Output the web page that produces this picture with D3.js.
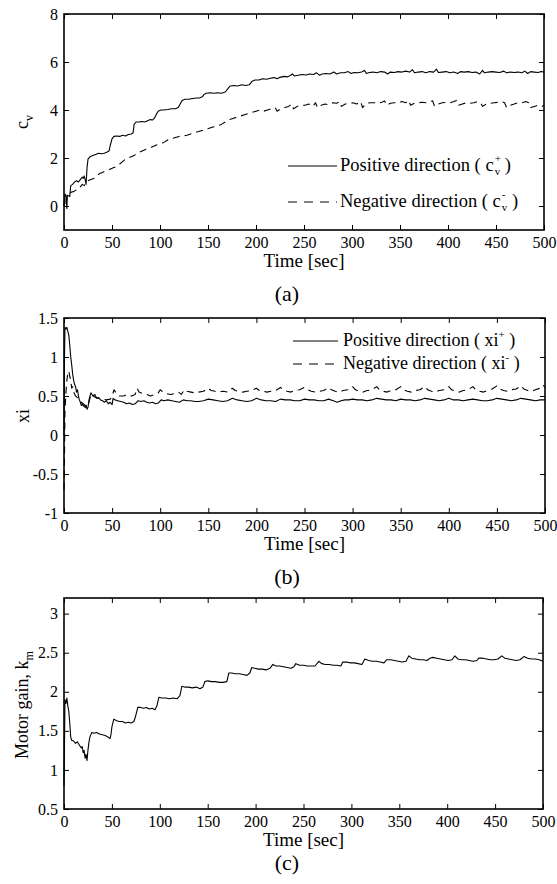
<!DOCTYPE html>
<html>
<head>
<meta charset="utf-8">
<script src="https://cdn.jsdelivr.net/npm/d3@7"></script>
<style>
  body { margin: 0; background: #fff; }
  svg text { font-family: "Liberation Serif", "Times New Roman", serif; fill: #000; }
</style>
</head>
<body>
<svg id="chart" width="557" height="884"></svg>
<script>
// time axis ticks shared by the three panels
const timeTicks = [0, 50, 100, 150, 200, 250, 300, 350, 400, 450, 500];
const cvTicks = [0, 2, 4, 6, 8];
const xiTicks = [-1, -0.5, 0, 0.5, 1, 1.5];
const kmTicks = [0.5, 1, 1.5, 2, 2.5, 3];

// (a) c_v, positive direction  [time, value]
const cvPos = [[0,0],[1,0.5],[2,0.45],[3,-0.1],[3.5,0.45],[6,0.4],[7,0.85],[9,0.9],[11,1.0],[13,1.05],[15,1.0],[17,1.1],[19,1.2],[20,1.15],[21,1.25],[22,1.1],[23,0.9],[24,1.6],[25,1.95],[27,2.05],[30,2.1],[33,2.15],[36,2.2],[39,2.18],[42,2.2],[45,2.25],[47,2.3],[48,2.5],[50,2.8],[52,2.9],[55,2.92],[58,2.9],[61,2.95],[64,2.92],[67,2.98],[70,3.0],[72,3.05],[73,3.4],[75,3.5],[78,3.5],[81,3.52],[84,3.5],[87,3.55],[90,3.6],[92,3.58],[94,3.65],[96,3.8],[98,3.95],[101,4.0],[104,4.0],[108,4.02],[112,4.05],[116,4.05],[119,4.1],[121,4.25],[123,4.4],[126,4.45],[130,4.45],[134,4.48],[138,4.5],[141,4.5],[144,4.55],[146,4.65],[148,4.7],[152,4.72],[156,4.7],[160,4.72],[164,4.7],[168,4.75],[171,4.9],[173,5.0],[177,5.02],[181,5.0],[185,5.05],[189,5.02],[193,5.05],[196,5.2],[199,5.25],[203,5.25],[207,5.3],[211,5.28],[215,5.32],[219,5.35],[222,5.3],[225,5.36],[229,5.4],[233,5.38],[236,5.45],[238,5.5],[240,5.42],[244,5.45],[248,5.48],[252,5.46],[256,5.5],[260,5.48],[263,5.55],[266,5.45],[269,5.5],[273,5.52],[277,5.5],[281,5.58],[284,5.5],[288,5.55],[292,5.55],[296,5.6],[299,5.52],[302,5.56],[306,5.55],[310,5.58],[313,5.65],[315,5.52],[318,5.56],[322,5.58],[326,5.55],[330,5.6],[334,5.58],[337,5.5],[340,5.58],[344,5.56],[348,5.6],[352,5.58],[356,5.62],[360,5.58],[363,5.68],[365,5.55],[369,5.58],[373,5.6],[377,5.55],[381,5.6],[385,5.58],[388,5.7],[390,5.56],[394,5.58],[398,5.6],[402,5.55],[406,5.58],[410,5.52],[413,5.6],[417,5.58],[421,5.6],[425,5.56],[429,5.58],[433,5.5],[436,5.65],[438,5.55],[442,5.58],[446,5.6],[450,5.58],[454,5.56],[458,5.62],[461,5.55],[465,5.58],[469,5.56],[473,5.58],[477,5.55],[480,5.62],[483,5.52],[486,5.6],[490,5.58],[494,5.56],[497,5.6],[500,5.58]];

// (a) c_v, negative direction
const cvNeg = [[0,0],[1,0.3],[2,0.1],[3,0.4],[5,0.5],[8,0.58],[10,0.6],[12,0.65],[15,0.7],[17,0.8],[19,0.9],[21,0.85],[23,1.0],[25,1.05],[28,1.1],[31,1.15],[34,1.25],[37,1.35],[40,1.4],[43,1.45],[46,1.5],[49,1.55],[52,1.6],[55,1.65],[58,1.75],[61,1.85],[64,1.95],[67,2.0],[70,2.05],[73,2.1],[76,2.2],[79,2.25],[82,2.3],[85,2.35],[88,2.42],[91,2.45],[94,2.5],[97,2.55],[100,2.6],[104,2.65],[108,2.75],[112,2.8],[116,2.85],[120,2.9],[124,2.92],[128,2.95],[132,3.0],[136,3.05],[140,3.1],[144,3.15],[148,3.2],[152,3.25],[156,3.3],[160,3.35],[164,3.4],[168,3.5],[172,3.6],[176,3.65],[180,3.7],[184,3.75],[188,3.8],[192,3.85],[196,3.9],[200,3.95],[204,4.0],[208,3.95],[212,4.0],[216,4.05],[220,4.1],[222,3.95],[226,4.05],[230,4.1],[234,4.15],[237,4.25],[239,4.05],[243,4.15],[247,4.2],[251,4.2],[255,4.25],[259,4.15],[262,4.3],[264,4.1],[268,4.2],[272,4.25],[276,4.22],[280,4.3],[284,4.28],[287,4.35],[289,4.15],[293,4.25],[297,4.28],[301,4.3],[305,4.25],[309,4.35],[311,4.1],[315,4.28],[319,4.3],[323,4.3],[327,4.28],[331,4.32],[334,4.38],[336,4.2],[340,4.28],[344,4.3],[348,4.3],[352,4.35],[356,4.3],[359,4.4],[361,4.2],[365,4.28],[369,4.3],[373,4.32],[377,4.3],[381,4.35],[384,4.38],[386,4.15],[390,4.25],[394,4.3],[398,4.32],[402,4.3],[406,4.35],[409,4.4],[411,4.2],[415,4.25],[419,4.3],[423,4.28],[427,4.3],[431,4.35],[434,4.3],[436,4.15],[440,4.25],[444,4.28],[448,4.3],[452,4.32],[456,4.35],[459,4.3],[461,4.1],[465,4.2],[469,4.25],[473,4.3],[477,4.3],[481,4.35],[484,4.3],[486,4.1],[490,4.15],[494,4.2],[498,4.15],[500,4.2]];

// (b) xi, positive direction
const xiPos = [[0,0],[0.5,1.0],[1,1.38],[2,1.36],[3,1.38],[4,1.33],[5,1.28],[6,1.15],[7,1.0],[8,0.9],[9,0.78],[10,0.7],[11,0.65],[12,0.62],[13,0.55],[14,0.58],[15,0.5],[16,0.45],[17,0.42],[18,0.38],[19,0.4],[20,0.37],[21,0.38],[22,0.35],[23,0.38],[24,0.33],[25,0.36],[26,0.45],[27,0.5],[28,0.54],[30,0.5],[32,0.52],[34,0.47],[36,0.48],[38,0.45],[40,0.44],[42,0.42],[44,0.44],[46,0.4],[48,0.42],[50,0.39],[51,0.47],[53,0.45],[56,0.44],[59,0.43],[62,0.42],[65,0.4],[68,0.41],[71,0.39],[74,0.4],[77,0.44],[80,0.43],[83,0.44],[86,0.42],[89,0.41],[92,0.42],[95,0.4],[98,0.41],[101,0.45],[104,0.44],[108,0.45],[112,0.44],[116,0.43],[120,0.42],[124,0.45],[128,0.44],[132,0.44],[136,0.43],[140,0.43],[145,0.44],[150,0.46],[155,0.45],[160,0.44],[165,0.43],[170,0.44],[175,0.47],[180,0.45],[185,0.44],[190,0.43],[195,0.44],[200,0.47],[205,0.45],[210,0.44],[215,0.44],[220,0.43],[225,0.46],[230,0.45],[235,0.45],[240,0.44],[245,0.44],[250,0.46],[255,0.45],[260,0.45],[265,0.44],[270,0.44],[275,0.46],[280,0.44],[284,0.42],[288,0.44],[292,0.45],[296,0.45],[300,0.46],[305,0.45],[310,0.45],[315,0.44],[320,0.45],[325,0.47],[330,0.46],[335,0.45],[340,0.45],[345,0.44],[350,0.46],[355,0.45],[360,0.45],[365,0.44],[370,0.45],[375,0.47],[380,0.46],[385,0.45],[390,0.44],[395,0.45],[400,0.47],[405,0.45],[410,0.45],[415,0.44],[420,0.45],[425,0.46],[430,0.45],[435,0.44],[440,0.44],[445,0.45],[450,0.47],[455,0.46],[460,0.45],[465,0.44],[470,0.45],[475,0.47],[480,0.46],[485,0.45],[490,0.44],[495,0.45],[500,0.45]];

// (b) xi, negative direction
const xiNeg = [[0,-0.7],[0.5,-0.3],[1,0.3],[2,0.55],[3,0.7],[4,0.8],[5,0.82],[6,0.75],[7,0.7],[8,0.6],[9,0.62],[10,0.55],[12,0.5],[14,0.48],[16,0.45],[18,0.42],[20,0.4],[22,0.38],[24,0.36],[26,0.42],[28,0.52],[30,0.5],[33,0.48],[36,0.47],[40,0.46],[44,0.45],[48,0.46],[50,0.5],[52,0.58],[55,0.52],[58,0.5],[62,0.5],[66,0.52],[70,0.5],[74,0.52],[76,0.6],[78,0.55],[82,0.53],[86,0.52],[90,0.5],[94,0.52],[98,0.54],[100,0.58],[103,0.55],[107,0.53],[111,0.52],[115,0.53],[119,0.55],[122,0.52],[125,0.58],[128,0.56],[132,0.55],[136,0.54],[140,0.55],[145,0.56],[150,0.6],[153,0.57],[157,0.56],[161,0.55],[165,0.56],[170,0.55],[175,0.6],[178,0.57],[182,0.56],[186,0.55],[190,0.56],[195,0.57],[200,0.6],[203,0.57],[207,0.56],[211,0.55],[215,0.56],[220,0.57],[225,0.61],[228,0.58],[232,0.56],[236,0.55],[240,0.57],[245,0.58],[250,0.61],[253,0.58],[257,0.56],[261,0.55],[265,0.56],[270,0.57],[275,0.61],[278,0.58],[282,0.56],[286,0.55],[290,0.57],[295,0.58],[300,0.62],[303,0.58],[307,0.56],[311,0.55],[315,0.57],[320,0.58],[325,0.62],[328,0.58],[332,0.56],[336,0.55],[340,0.57],[345,0.58],[350,0.62],[353,0.58],[357,0.56],[361,0.55],[365,0.57],[370,0.58],[375,0.62],[378,0.58],[382,0.56],[386,0.55],[390,0.57],[395,0.58],[400,0.62],[403,0.58],[407,0.56],[411,0.55],[415,0.57],[420,0.58],[425,0.62],[428,0.58],[432,0.56],[436,0.55],[440,0.57],[445,0.59],[450,0.63],[453,0.59],[457,0.57],[461,0.56],[465,0.58],[470,0.59],[475,0.63],[478,0.59],[482,0.57],[486,0.56],[490,0.58],[495,0.6],[498,0.64],[500,0.61]];

// (c) motor gain k_m
const motorGain = [[0,0.8],[0.5,1.3],[1,1.9],[2,1.85],[3,1.92],[4,1.82],[5,1.75],[6,1.6],[7,1.42],[8,1.38],[10,1.37],[12,1.34],[14,1.36],[16,1.32],[18,1.28],[19,1.3],[20,1.22],[21,1.25],[22,1.15],[23,1.2],[24,1.12],[25,1.25],[26,1.35],[27,1.42],[29,1.48],[31,1.47],[34,1.48],[37,1.46],[40,1.45],[43,1.44],[46,1.42],[48,1.4],[49,1.45],[50,1.55],[52,1.65],[55,1.63],[58,1.62],[61,1.62],[64,1.6],[67,1.61],[70,1.6],[73,1.62],[75,1.7],[77,1.8],[80,1.8],[83,1.79],[86,1.8],[89,1.78],[92,1.79],[95,1.77],[97,1.82],[99,1.93],[102,1.92],[106,1.92],[110,1.91],[114,1.92],[118,1.91],[121,1.95],[123,2.07],[126,2.06],[130,2.06],[134,2.05],[138,2.06],[142,2.04],[145,2.06],[147,2.13],[150,2.14],[154,2.13],[158,2.13],[162,2.12],[166,2.12],[170,2.13],[172,2.24],[175,2.24],[179,2.23],[183,2.23],[187,2.22],[191,2.21],[194,2.24],[196,2.31],[199,2.3],[203,2.29],[207,2.29],[211,2.28],[215,2.3],[218,2.35],[221,2.33],[225,2.33],[229,2.32],[233,2.31],[237,2.3],[240,2.32],[242,2.36],[246,2.34],[250,2.34],[254,2.33],[258,2.33],[262,2.33],[266,2.39],[269,2.36],[273,2.35],[277,2.35],[281,2.34],[285,2.34],[289,2.33],[291,2.38],[295,2.38],[299,2.37],[303,2.37],[307,2.36],[311,2.35],[314,2.42],[318,2.4],[322,2.39],[326,2.39],[330,2.38],[334,2.37],[337,2.41],[341,2.41],[345,2.4],[349,2.39],[353,2.38],[357,2.39],[360,2.46],[363,2.43],[367,2.42],[371,2.41],[375,2.41],[379,2.4],[382,2.43],[385,2.44],[389,2.43],[393,2.42],[397,2.41],[401,2.4],[405,2.41],[408,2.46],[411,2.42],[415,2.41],[419,2.41],[423,2.4],[427,2.39],[431,2.4],[433,2.43],[437,2.43],[441,2.42],[445,2.41],[449,2.41],[453,2.42],[457,2.46],[460,2.43],[464,2.42],[468,2.41],[472,2.4],[476,2.41],[480,2.45],[484,2.43],[488,2.42],[492,2.42],[496,2.41],[500,2.39]];

const svg = d3.select('#chart');
const tickLen = 5;

//
// One framed panel: box, inward ticks on all four sides, labels below/left
//
function drawPanel({ left, right, top, bottom, yDomain, yTicks }) {
  const x = d3.scaleLinear([0, 500], [left, right]);
  const y = d3.scaleLinear(yDomain, [bottom, top]);
  const g = svg.append('g');

  // plain labels, as MATLAB prints them (1 not 1.0, hyphen minus)
  const plain = d => String(d);
  const bottomAxis = d3.axisBottom(x).tickValues(timeTicks).tickSize(-tickLen).tickPadding(7).tickFormat(plain);
  const leftAxis = d3.axisLeft(y).tickValues(yTicks).tickSize(-tickLen).tickPadding(6).tickFormat(plain);
  const topAxis = d3.axisTop(x).tickValues(timeTicks).tickSize(-tickLen).tickFormat('');
  const rightAxis = d3.axisRight(y).tickValues(yTicks).tickSize(-tickLen).tickFormat('');

  g.append('g').attr('transform', `translate(0,${bottom})`).call(bottomAxis);
  g.append('g').attr('transform', `translate(${left},0)`).call(leftAxis);
  g.append('g').attr('transform', `translate(0,${top})`).call(topAxis);
  g.append('g').attr('transform', `translate(${right},0)`).call(rightAxis);

  g.selectAll('.domain').remove();
  g.selectAll('.tick line').attr('stroke', '#000').attr('stroke-width', 1);
  g.selectAll('.tick text').attr('font-size', 16);

  g.append('rect')
    .attr('x', left).attr('y', top)
    .attr('width', right - left).attr('height', bottom - top)
    .attr('fill', 'none').attr('stroke', '#000').attr('stroke-width', 1.6);

  g.append('text')
    .attr('x', (left + right) / 2).attr('y', bottom + 37)
    .attr('text-anchor', 'middle').attr('font-size', 19)
    .text('Time [sec]');

  return { x, y, g };
}

function drawLine(panel, data, dashed) {
  const line = d3.line().x(d => panel.x(d[0])).y(d => panel.y(d[1]));
  panel.g.append('path')
    .datum(data)
    .attr('d', line)
    .attr('fill', 'none')
    .attr('stroke', '#000')
    .attr('stroke-width', 1.1)
    .attr('stroke-linejoin', 'round')
    .attr('stroke-dasharray', dashed ? '7,5' : null);
}

function legendRow(x0, x1, y, dashed) {
  svg.append('line')
    .attr('x1', x0).attr('x2', x1).attr('y1', y).attr('y2', y)
    .attr('stroke', '#000').attr('stroke-width', 1)
    .attr('stroke-dasharray', dashed ? '9,7' : null);
}

function caption(label, x, y) {
  svg.append('text').attr('x', x).attr('y', y)
    .attr('text-anchor', 'middle').attr('font-size', 22).text(label);
}

// ---------- (a) ----------
const pa = drawPanel({ left: 64, right: 544, top: 14, bottom: 230, yDomain: [-1, 8], yTicks: cvTicks });
drawLine(pa, cvPos, false);
drawLine(pa, cvNeg, true);

const cvLabel = svg.append('text')
  .attr('transform', 'translate(28,122) rotate(-90)')
  .attr('text-anchor', 'middle').attr('font-size', 18);
cvLabel.append('tspan').text('c');
cvLabel.append('tspan').attr('font-size', 12).attr('dy', 5).text('v');

legendRow(288, 337, 166, false);
legendRow(288, 337, 202, true);
[['Positive direction ( c', '+', 171], ['Negative direction ( c', '-', 207]].forEach(([txt, sup, yy]) => {
  const t = svg.append('text').attr('x', 340).attr('y', yy).attr('font-size', 18.5);
  t.append('tspan').text(txt);
  t.append('tspan').attr('font-size', 11).attr('dx', 1).attr('dy', -9).text(sup);
  t.append('tspan').attr('font-size', 11).attr('dx', sup === '+' ? -6.2 : -3.7).attr('dy', 13).text('v');
  t.append('tspan').attr('dy', -4).text('\u00a0)');
});
caption('(a)', 287, 301);

// ---------- (b) ----------
const pb = drawPanel({ left: 64, right: 545, top: 318, bottom: 513, yDomain: [-1, 1.5], yTicks: xiTicks });
drawLine(pb, xiPos, false);
drawLine(pb, xiNeg, true);

svg.append('text')
  .attr('transform', 'translate(29,416) rotate(-90)')
  .attr('text-anchor', 'middle').attr('font-size', 18).text('xi');

legendRow(293, 338, 341, false);
legendRow(293, 338, 364, true);
[['Positive direction ( xi', '+', 346], ['Negative direction ( xi', '-', 369]].forEach(([txt, sup, yy]) => {
  const t = svg.append('text').attr('x', 343).attr('y', yy).attr('font-size', 18);
  t.append('tspan').text(txt);
  t.append('tspan').attr('font-size', 11).attr('dy', -8).text(sup);
  t.append('tspan').attr('dy', 8).text(' )');
});
caption('(b)', 287, 584);

// ---------- (c) ----------
const pc = drawPanel({ left: 64, right: 543, top: 598, bottom: 809, yDomain: [0.5, 3.2], yTicks: kmTicks });
drawLine(pc, motorGain, false);

const kmLabel = svg.append('text')
  .attr('transform', 'translate(28,705) rotate(-90)')
  .attr('text-anchor', 'middle').attr('font-size', 18);
kmLabel.append('tspan').text('Motor gain, k');
kmLabel.append('tspan').attr('font-size', 12).attr('dy', 5).text('m');

caption('(c)', 287, 870);
</script>
</body>
</html>
